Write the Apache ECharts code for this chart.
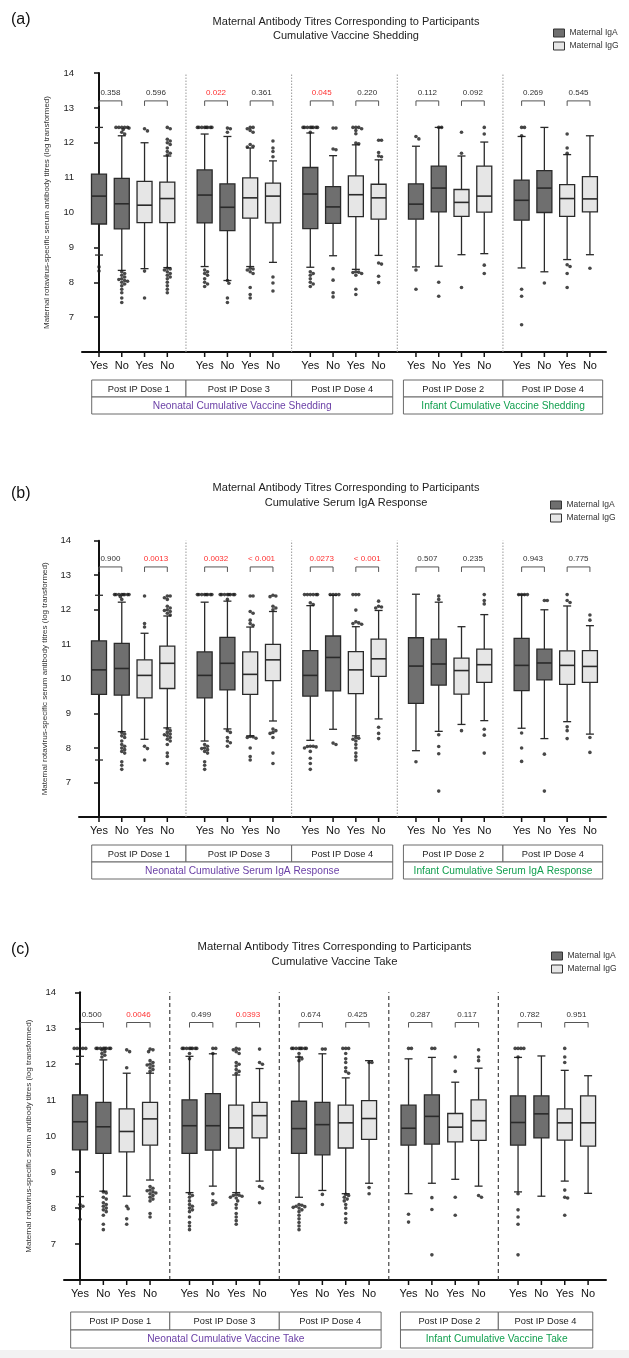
<!DOCTYPE html>
<html><head><meta charset="utf-8">
<script src="https://cdn.jsdelivr.net/npm/echarts@6/dist/echarts.min.js"></script>
<style>html,body{margin:0;padding:0;background:#fff}#c{width:629px;height:1358px}</style>
</head><body><div id="c"></div>
<script>
// ---------- DATA ----------
const xLabels = ['Yes','No','Yes','No','Yes','No','Yes','No','Yes','No','Yes','No','Yes','No','Yes','No','Yes','No','Yes','No'];
const doseLabels = ['Post IP Dose 1','Post IP Dose 3','Post IP Dose 4','Post IP Dose 2','Post IP Dose 4'];
const titleLine1 = 'Maternal Antibody Titres Corresponding to Participants';
const titleLine2 = ['Cumulative Vaccine Shedding','Cumulative Serum IgA Response','Cumulative Vaccine Take'];
const panelLetters = ['(a)','(b)','(c)'];
const neonatalLabels = ['Neonatal Cumulative Vaccine Shedding','Neonatal Cumulative Serum IgA Response','Neonatal Cumulative Vaccine Take'];
const infantLabels = ['Infant Cumulative Vaccine Shedding','Infant Cumulative Serum IgA Response','Infant Cumulative Vaccine Take'];
const legendNames = ['Maternal IgA','Maternal IgG'];
const yAxisName = 'Maternal rotavirus-specific serum antibody titres (log transformed)';

// box stats: [lower whisker, Q1, median, Q3, upper whisker]; order per group: IgA Yes, IgA No, IgG Yes, IgG No
const statsA = [
[8.78,9.67,10.47,11.10,12.44],[8.34,9.53,10.25,10.98,12.20],[8.39,9.71,10.21,10.89,12.00],[8.42,9.71,10.40,10.87,11.62],
[8.45,9.70,10.50,11.22,12.25],[8.05,9.48,10.15,10.82,12.18],[8.45,9.84,10.42,10.99,11.85],[8.57,9.70,10.47,10.84,11.48],
[8.43,9.54,10.53,11.29,12.28],[8.76,9.69,10.16,10.74,11.63],[8.37,9.88,10.51,11.05,11.94],[8.77,9.81,10.42,10.81,11.51],
[8.44,9.81,10.24,10.82,11.90],[8.46,10.02,10.70,11.33,12.44],[8.79,9.89,10.29,10.66,11.62],[8.82,10.01,10.47,11.33,12.02],
[8.41,9.78,10.35,10.93,12.18],[8.30,10.00,10.70,11.20,12.44],[8.65,9.89,10.40,10.80,11.66],[8.79,10.02,10.39,11.03,12.20]
];
const outA = [
[8.44,8.32],
[12.44,12.44,12.44,12.44,12.44,12.42,12.38,12.3,12.25,8.3,8.25,8.2,8.15,8.1,8.08,8.05,8.03,8.0,7.95,7.9,7.8,7.7,7.55,7.42],
[12.4,12.34,8.32,7.55],
[12.44,12.4,12.1,12.05,12.0,11.95,11.85,11.75,11.7,11.65,8.4,8.38,8.35,8.3,8.25,8.2,8.15,8.1,8.0,7.9,7.8,7.7],
[12.44,12.44,12.44,12.44,12.44,12.44,12.44,12.44,8.35,8.3,8.25,8.2,8.1,8.0,7.95,7.88],
[12.42,12.4,12.3,8.05,7.97,7.55,7.42],
[12.44,12.44,12.4,12.35,12.3,11.95,11.9,11.88,8.4,8.38,8.35,8.3,8.25,7.85,7.65,7.55],
[12.05,11.85,11.75,11.6,8.15,7.98,7.75],
[12.44,12.44,12.44,12.44,12.44,12.44,12.44,12.44,12.3,8.3,8.25,8.2,8.1,8.0,7.95,7.88],
[12.42,12.42,11.82,11.8,8.39,8.06,7.7,7.58],
[12.44,12.44,12.44,12.4,12.35,12.26,11.99,11.97,8.3,8.29,8.28,8.25,8.2,7.8,7.65],
[12.07,12.07,11.72,11.62,11.6,8.55,8.52,8.17,7.99],
[12.18,12.11,8.35,7.8],
[12.44,12.44,8.0,7.6],
[12.3,11.7,7.85],
[12.44,12.25,8.49,8.25],
[12.44,12.44,12.2,7.8,7.6,6.78],
[7.98],
[12.25,11.85,11.7,8.5,8.45,8.25,7.85],
[8.4]
];
const pvalsA = ['0.358','0.596','0.022','0.361','0.045','0.220','0.112','0.092','0.269','0.545'];
const sigA = [0,0,1,0,1,0,0,0,0,0];

const statsB = [
[7.65,9.55,10.26,11.10,12.42],[8.47,9.53,10.30,11.03,12.22],[8.25,9.45,10.10,10.55,11.32],[8.58,9.72,10.45,10.95,11.82],
[8.20,9.45,10.10,10.78,12.22],[8.55,9.68,10.45,11.20,12.25],[8.35,9.55,10.13,10.78,11.50],[8.78,9.95,10.55,11.00,11.95],
[8.22,9.50,10.10,10.82,12.12],[8.54,9.65,10.62,11.24,12.42],[8.35,9.57,10.26,10.79,11.51],[8.84,10.07,10.58,11.15,11.98],
[7.92,9.29,10.37,11.19,12.45],[8.48,9.82,10.43,11.15,12.22],[8.68,9.56,10.24,10.60,11.51],[8.79,9.90,10.41,10.86,11.86],
[8.57,9.66,10.39,11.17,12.43],[8.27,9.97,10.46,10.86,12.00],[8.76,9.84,10.39,10.81,12.11],[8.40,9.90,10.36,10.82,11.54]
];
const outB = [
[],
[12.44,12.44,12.44,12.44,12.44,12.44,12.44,12.44,12.38,12.3,8.45,8.4,8.35,8.3,8.2,8.1,8.05,8.0,7.95,7.9,7.85,7.6,7.5,7.38],
[12.4,11.6,11.5,8.05,7.98,7.65],
[12.4,12.4,12.35,12.3,12.1,12.05,12.0,11.98,11.95,11.9,11.85,8.55,8.5,8.45,8.4,8.38,8.35,8.3,8.25,8.2,8.1,7.85,7.75,7.55],
[12.44,12.44,12.44,12.44,12.44,12.44,12.44,12.44,8.1,8.05,8.0,7.98,7.95,7.9,7.85,7.6,7.5,7.38],
[12.44,12.44,12.44,12.44,12.44,12.44,12.44,12.44,12.3,8.5,8.45,8.3,8.2,8.15,8.05],
[12.4,12.4,11.95,11.9,11.7,11.6,11.55,8.33,8.32,8.3,8.28,8.0,7.75,7.65],
[12.42,12.4,12.38,12.1,12.05,12.0,8.55,8.5,8.45,8.42,8.3,7.85,7.55],
[12.44,12.44,12.44,12.44,12.44,12.44,12.2,12.15,8.05,8.05,8.04,8.03,8.0,7.9,7.7,7.55,7.38],
[12.44,12.44,12.44,12.44,8.14,8.1],
[12.44,12.44,12.44,11.99,11.65,11.62,11.6,11.58,8.3,8.28,8.25,8.2,8.1,8.0,7.85,7.75,7.65],
[12.25,12.1,12.08,12.05,8.6,8.42,8.27],
[7.6],
[12.4,12.3,8.38,8.04,7.83,6.75],
[8.5],
[12.44,12.27,12.17,8.54,8.37,7.85],
[12.44,12.44,12.44,12.44,8.43,8.0,7.61],
[12.27,12.27,7.82,6.75],
[12.44,12.27,12.21,8.61,8.5,8.27],
[11.85,11.7,8.3,7.87]
];
const pvalsB = ['0.900','0.0013','0.0032','< 0.001','0.0273','< 0.001','0.507','0.235','0.943','0.775'];
const sigB = [0,1,1,1,1,1,0,0,0,0];

const statsC = [
[8.32,9.62,10.40,11.15,12.22],[8.47,9.52,10.26,10.94,12.12],[8.33,9.56,10.13,10.76,11.75],[8.78,9.75,10.48,10.94,11.75],
[8.43,9.52,10.29,11.01,12.22],[8.61,9.61,10.29,11.18,12.29],[8.43,9.67,10.23,10.86,11.70],[8.75,9.95,10.57,10.94,11.88],
[8.30,9.52,10.21,10.97,12.20],[8.49,9.48,10.32,10.94,12.29],[8.40,9.67,10.37,10.86,11.62],[8.69,9.91,10.49,10.99,12.10],
[8.40,9.75,10.22,10.86,12.15],[8.69,9.78,10.55,11.15,12.19],[8.80,9.84,10.25,10.63,11.50],[8.61,9.88,10.43,11.01,11.89],
[8.45,9.75,10.38,11.12,12.19],[8.33,9.95,10.62,11.12,12.23],[8.75,9.89,10.37,10.76,11.83],[8.41,9.72,10.37,11.12,11.68]
];
const outC = [
[12.44,12.44,12.44,12.44,12.44,8.1,8.05,7.98,7.69],
[12.44,12.44,12.44,12.44,12.44,12.44,12.44,12.44,12.4,12.35,12.3,12.25,12.2,8.45,8.42,8.3,8.25,8.15,8.1,8.05,8.0,7.95,7.9,7.8,7.55,7.4],
[12.4,12.35,11.9,8.05,7.98,7.7,7.55],
[12.42,12.4,12.35,12.1,12.05,12.0,11.98,11.95,11.9,11.85,11.8,8.6,8.55,8.5,8.48,8.45,8.42,8.4,8.35,8.3,8.25,8.2,7.85,7.75],
[12.44,12.44,12.44,12.44,12.44,12.44,12.44,12.44,12.3,12.15,8.4,8.35,8.3,8.2,8.1,8.05,8.0,7.95,7.9,7.75,7.6,7.5,7.4],
[12.44,12.44,12.3,8.4,8.2,8.15,8.1],
[12.44,12.42,12.4,12.35,12.3,12.05,12.0,11.95,11.85,11.8,11.75,8.38,8.36,8.35,8.33,8.3,8.28,8.2,8.1,8.0,7.85,7.75,7.65,7.55],
[12.42,12.05,12.0,8.6,8.55,8.15],
[12.44,12.44,12.44,12.44,12.44,12.44,12.44,12.44,12.3,12.2,12.15,12.1,8.1,8.08,8.05,8.04,8.02,8.0,7.95,7.9,7.8,7.7,7.6,7.5,7.4],
[12.42,12.42,8.38,8.1],
[12.44,12.44,12.44,12.3,12.15,12.05,11.9,11.8,11.75,8.38,8.35,8.3,8.25,8.2,8.1,8.0,7.85,7.7,7.6],
[12.05,12.05,8.57,8.4],
[12.44,12.44,7.83,7.61],
[12.44,12.44,8.29,7.96,6.7],
[12.2,11.8,8.3,7.8],
[12.4,12.2,12.1,8.35,8.3],
[12.44,12.44,12.44,12.44,12.2,8.4,7.95,7.75,7.55,6.7],
[],
[12.44,12.2,12.05,8.5,8.3,8.28,7.8],
[]
];
const pvalsC = ['0.500','0.0046','0.499','0.0393','0.674','0.425','0.287','0.117','0.782','0.951'];
const sigC = [0,1,0,1,0,0,0,0,0,0];

// ---------- LAYOUT ----------
const FONT = '"Liberation Sans", Arial, Helvetica, sans-serif';
const panels = [
 {stats:statsA, outs:outA, pv:pvalsA, sig:sigA, letterY:20, titleX:346, titleY:[22,36], titleFont:11,
  legendLeft:553, legendTop:28.5, grid:{left:82, top:73, width:524, height:279}, x0:99, s:22.77, gstep:4.64,
  nameGap:31, tableOff:28, rowH:17, tbl:[-0.32,-0.2,0.27,0.56], dashed:false, bracketY:13.2, labelOff:14},
 {stats:statsB, outs:outB, pv:pvalsB, sig:sigB, letterY:494, titleX:346, titleY:[488,503], titleFont:11,
  legendLeft:550, legendTop:500.5, grid:{left:79, top:540.7, width:527, height:276.3}, x0:99, s:22.77, gstep:4.64,
  nameGap:30, tableOff:28, rowH:17, tbl:[-0.32,-0.2,0.27,0.56], dashed:false, bracketY:13.24, labelOff:13.5},
 {stats:statsC, outs:outC, pv:pvalsC, sig:sigC, letterY:950, titleX:334.5, titleY:[947,962], titleFont:11.3,
  legendLeft:551, legendTop:951.5, grid:{left:64, top:992.3, width:542, height:287.7}, x0:80, s:23.35, gstep:4.69,
  nameGap:31, tableOff:32, rowH:18, tbl:[-0.4,-0.33,0.5,0.2], dashed:true, bracketY:13.16, labelOff:14}
];

const chart = echarts.init(document.getElementById('c'));
const grids = [], xAxes = [], yAxes = [], series = [], legends = [], graphics = [];

function posOf(P, g, i) { return g * P.gstep + i; }
function sepOf(P, g) { return g * P.gstep - (P.gstep - 3) / 2; }

// simple beeswarm layout (pixel space), limited to about the box width
function swarm(vals, x, P) {
  const pxY = P.grid.height / 8, pxX = P.s, d = 2.9, maxOff = 7.5;
  const cands = [0];
  for (let k = 1; k * d * 0.5 <= maxOff; k++) { cands.push(k * d * 0.5, -k * d * 0.5); }
  const placed = [], out = [];
  vals.forEach(v => {
    const yy = v * pxY;
    let best = null, bestDist = -1;
    for (const off of cands) {
      let m = Infinity;
      placed.forEach(p => { m = Math.min(m, Math.hypot(p[0] - off, p[1] - yy)); });
      if (m >= d) { best = off; break; }
      if (m > bestDist) { bestDist = m; best = off; }
    }
    placed.push([best, yy]); out.push([x + best / pxX, v]);
  });
  return out;
}

function boxRender(params, api) {
  const x = api.value(0);
  const lo = api.coord([x, api.value(1)]), q1 = api.coord([x, api.value(2)]),
        md = api.coord([x, api.value(3)]), q3 = api.coord([x, api.value(4)]),
        hi = api.coord([x, api.value(5)]);
  const cx = lo[0], bw = 15, cw = 8, st = '#2a2a2a', lw = 1.3;
  const ls = {stroke: st, lineWidth: lw};
  return {type: 'group', children: [
    {type:'line', shape:{x1:cx, y1:hi[1], x2:cx, y2:q3[1]}, style:ls},
    {type:'line', shape:{x1:cx, y1:q1[1], x2:cx, y2:lo[1]}, style:ls},
    {type:'line', shape:{x1:cx-cw/2, y1:hi[1], x2:cx+cw/2, y2:hi[1]}, style:ls},
    {type:'line', shape:{x1:cx-cw/2, y1:lo[1], x2:cx+cw/2, y2:lo[1]}, style:ls},
    {type:'rect', shape:{x:cx-bw/2, y:q3[1], width:bw, height:q1[1]-q3[1]}, style:{fill:api.visual('color'), stroke:st, lineWidth:lw}},
    {type:'line', shape:{x1:cx-bw/2, y1:md[1], x2:cx+bw/2, y2:md[1]}, style:{stroke:st, lineWidth:1.6}}
  ]};
}

function txt(text, x, y, size, fill, align, valign) {
  return {type:'text', x, y, style:{text, fontSize:size, fontFamily:FONT, fill,
    align:align||'center', verticalAlign:valign||'middle', textAlign:align||'center', textVerticalAlign:valign||'middle'}};
}

panels.forEach((P, pi) => {
  const G = P.grid;
  grids.push({left:G.left, top:G.top, width:G.width, height:G.height, containLabel:false});
  xAxes.push({type:'value', gridIndex:pi, min:(G.left - P.x0)/P.s, max:(G.left + G.width - P.x0)/P.s,
    axisLine:{show:true, onZero:false, lineStyle:{color:'#111', width:2}}, axisTick:{show:false},
    axisLabel:{show:false}, splitLine:{show:false}});
  yAxes.push({type:'value', gridIndex:pi, min:6, max:14, interval:1,
    axisLine:{show:true, lineStyle:{color:'#111', width:2}},
    axisTick:{show:true, length:5, lineStyle:{color:'#111', width:1.5}},
    axisLabel:{fontSize:9.5, color:'#222', fontFamily:FONT, margin:8, formatter:v => v === 6 ? '' : String(v)},
    splitLine:{show:false},
    name:yAxisName, nameLocation:'middle', nameGap:P.nameGap, nameRotate:90,
    nameTextStyle:{fontSize:8, color:'#333', fontFamily:FONT}});

  // group separators
  series.push({type:'custom', xAxisIndex:pi, yAxisIndex:pi, silent:true, z:1,
    data:[1,2,3,4].map(g => [sepOf(P, g), 6, 14]), encode:{x:0, y:[1,2]},
    renderItem:(params, api) => {
      const a = api.coord([api.value(0), api.value(1)]), b = api.coord([api.value(0), api.value(2)]);
      return {type:'line', shape:{x1:a[0], y1:a[1], x2:b[0], y2:b[1]},
        style:P.dashed ? {stroke:'#333', lineWidth:1.1, lineDash:[4,3]} : {stroke:'#9a9a9a', lineWidth:1, lineDash:[1.5,1.5]}};
    }});

  // boxes
  const boxA = [], boxG = [];
  P.stats.forEach((st, k) => {
    const g = Math.floor(k/4), i = k % 4;
    (i < 2 ? boxA : boxG).push([posOf(P, g, i)].concat(st));
  });
  series.push({type:'custom', name:legendNames[0], xAxisIndex:pi, yAxisIndex:pi, z:3, data:boxA,
    encode:{x:0, y:[1,2,3,4,5]}, itemStyle:{color:'#6f6f6f', borderColor:'#2a2a2a', borderWidth:1}, renderItem:boxRender});
  series.push({type:'custom', name:legendNames[1], xAxisIndex:pi, yAxisIndex:pi, z:3, data:boxG,
    encode:{x:0, y:[1,2,3,4,5]}, itemStyle:{color:'#e6e6e6', borderColor:'#2a2a2a', borderWidth:1}, renderItem:boxRender});

  // outliers
  let pts = [];
  P.outs.forEach((vals, k) => { pts = pts.concat(swarm(vals, posOf(P, Math.floor(k/4), k%4), P)); });
  series.push({type:'scatter', xAxisIndex:pi, yAxisIndex:pi, z:4, silent:true, data:pts, symbolSize:3.6,
    itemStyle:{color:'#1a1a1a'}});

  // x ticks + labels
  series.push({type:'custom', xAxisIndex:pi, yAxisIndex:pi, silent:true, z:5,
    data:xLabels.map((t, k) => [posOf(P, Math.floor(k/4), k%4), 6]), encode:{x:0, y:1},
    renderItem:(params, api) => {
      const p = api.coord([api.value(0), api.value(1)]);
      return {type:'group', children:[
        {type:'line', shape:{x1:p[0], y1:p[1], x2:p[0], y2:p[1]+5}, style:{stroke:'#111', lineWidth:1.5}},
        txt(xLabels[params.dataIndex], p[0], p[1] + P.labelOff, 11, '#111')
      ]};
    }});

  // p-value brackets
  series.push({type:'custom', xAxisIndex:pi, yAxisIndex:pi, silent:true, z:5,
    data:P.pv.map((t, j) => [posOf(P, Math.floor(j/2), (j%2)*2), posOf(P, Math.floor(j/2), (j%2)*2+1), P.bracketY]),
    encode:{x:[0,1], y:2},
    renderItem:(params, api) => {
      const a = api.coord([api.value(0), api.value(2)]), b = api.coord([api.value(1), api.value(2)]);
      const red = P.sig[params.dataIndex];
      return {type:'group', children:[
        {type:'polyline', shape:{points:[[a[0], a[1]+5],[a[0], a[1]],[b[0], a[1]],[b[0], a[1]+5]]},
          style:{stroke:'#555', lineWidth:1, fill:null}},
        txt(P.pv[params.dataIndex], (a[0]+b[0])/2, a[1]-8, 8, red ? '#ff3030' : '#333')
      ]};
    }});

  // label table below axis
  const s1 = sepOf(P,1), s2 = sepOf(P,2), s3 = sepOf(P,3), s4 = sepOf(P,4);
  const lL = posOf(P,0,0) + P.tbl[0], lR = s3 + P.tbl[1], rL = s3 + P.tbl[2], rR = posOf(P,4,3) + P.tbl[3];
  const cells = [
    [lL, s1, 6, 0, 0], [s1, s2, 6, 0, 1], [s2, lR, 6, 0, 2], [rL, s4, 6, 0, 3], [s4, rR, 6, 0, 4],
    [lL, lR, 6, 1, 0], [rL, rR, 6, 1, 1]
  ];
  series.push({type:'custom', xAxisIndex:pi, yAxisIndex:pi, silent:true, z:5, data:cells, encode:{x:[0,1], y:2},
    renderItem:(params, api) => {
      const a = api.coord([api.value(0), api.value(2)]), b = api.coord([api.value(1), api.value(2)]);
      const row = api.value(3), idx = api.value(4);
      const y = a[1] + P.tableOff + row * P.rowH;
      let text, color, size;
      if (row === 0) { text = doseLabels[idx]; color = '#222'; size = 9.3; }
      else { text = idx === 0 ? neonatalLabels[pi] : infantLabels[pi]; color = idx === 0 ? '#6a3fa6' : '#13a050'; size = 10.2; }
      return {type:'group', children:[
        {type:'rect', shape:{x:a[0], y:y, width:b[0]-a[0], height:P.rowH}, style:{fill:'#fff', stroke:'#6a6a6a', lineWidth:1}},
        txt(text, (a[0]+b[0])/2, y + P.rowH/2 + 0.5, size, color)
      ]};
    }});

  legends.push({left:P.legendLeft, top:P.legendTop, orient:'vertical', itemWidth:11, itemHeight:8, itemGap:4,
    padding:0, icon:'rect', selectedMode:false, data:legendNames,
    textStyle:{fontSize:8.5, color:'#333', fontFamily:FONT},
    itemStyle:{borderColor:'#333', borderWidth:1}});

  graphics.push({type:'text', x:11, y:P.letterY, style:{text:panelLetters[pi], fontSize:16, fontFamily:FONT, fill:'#111',
    align:'left', verticalAlign:'middle', textAlign:'left', textVerticalAlign:'middle'}});
  graphics.push({type:'text', x:P.titleX, y:P.titleY[0], style:{text:titleLine1, fontSize:P.titleFont, fontFamily:FONT, fill:'#222',
    align:'center', verticalAlign:'middle', textAlign:'center', textVerticalAlign:'middle'}});
  graphics.push({type:'text', x:P.titleX, y:P.titleY[1], style:{text:titleLine2[pi], fontSize:P.titleFont, fontFamily:FONT, fill:'#222',
    align:'center', verticalAlign:'middle', textAlign:'center', textVerticalAlign:'middle'}});
});

graphics.push({type:'rect', shape:{x:0, y:1350, width:629, height:8}, style:{fill:'#f2f2f2'}});

chart.setOption({
  animation:false,
  backgroundColor:'#ffffff',
  textStyle:{fontFamily:FONT},
  grid:grids, xAxis:xAxes, yAxis:yAxes, legend:legends, graphic:graphics, series:series
});
</script></body></html>
